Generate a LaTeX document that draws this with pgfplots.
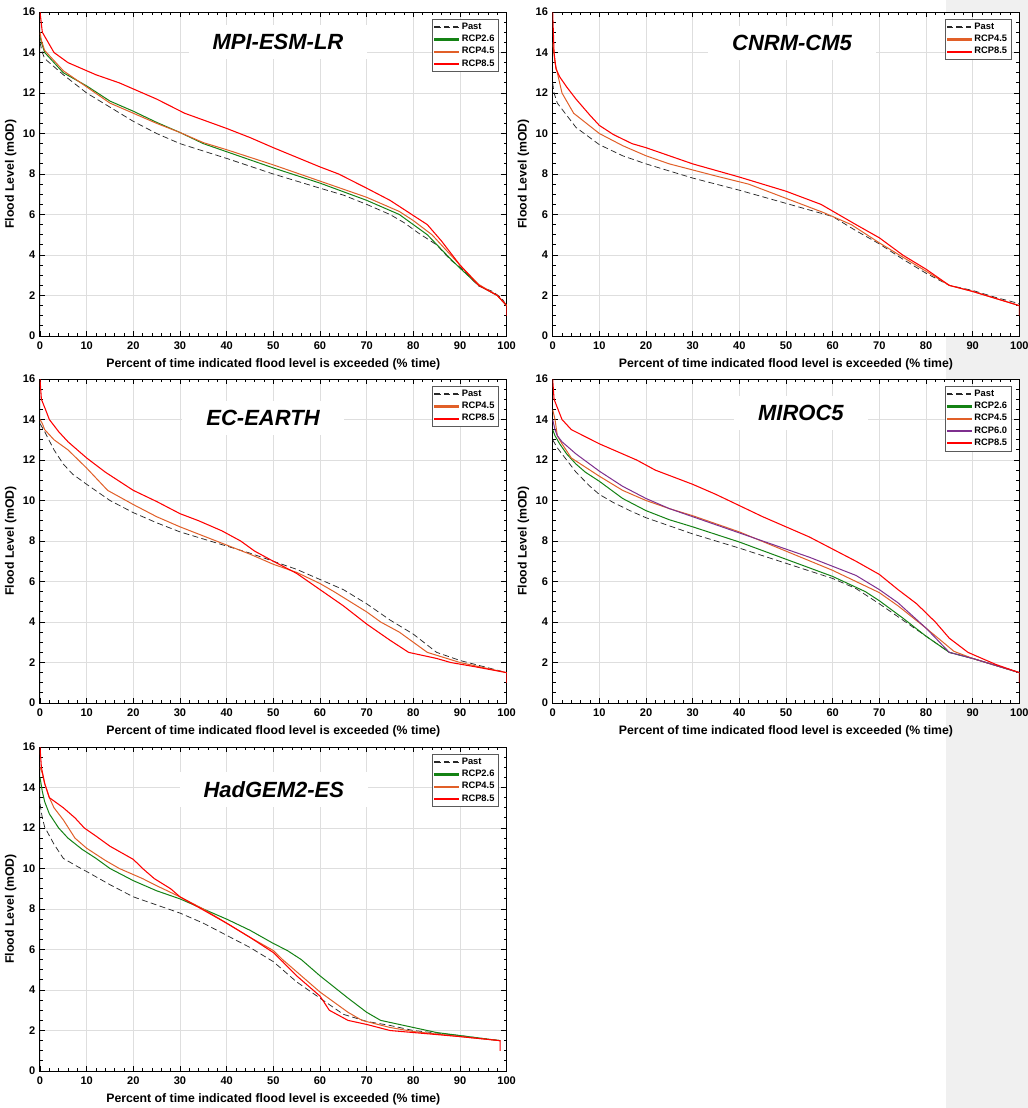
\documentclass[border=0pt]{standalone}
\usepackage{fontspec}
\setmainfont{Liberation Sans}
\usepackage{pgfplots}
\pgfplotsset{compat=1.18}

\definecolor{cgreen}{RGB}{20,130,20}
\definecolor{corange}{RGB}{225,95,40}
\definecolor{cpurple}{RGB}{126,47,142}
\definecolor{cred}{RGB}{255,0,0}
\definecolor{cpast}{RGB}{40,40,40}
\definecolor{figbg}{RGB}{240,240,240}
\definecolor{lgdframe}{RGB}{90,90,90}

\tikzset{ttl/.style={fill=white, font=\bfseries\itshape\fontsize{16.5}{18}\selectfont, inner xsep=18pt, inner ysep=7pt}}

\pgfplotsset{
  floodax/.style={
    scale only axis,
    width=350pt, height=243pt,
    anchor=north west,
    axis background/.style={fill=white},
    xmin=0, xmax=100, ymin=0, ymax=16,
    xtick={0,10,...,100}, ytick={0,2,...,16},
    minor x tick num=4, minor y tick num=3,
    tick pos=both, tick align=inside,
    xticklabel pos=lower, yticklabel pos=left,
    major tick length=4pt, minor tick length=2.2pt,
    every tick/.style={black, line width=0.6pt},
    axis line style={black, line width=0.75pt},
    grid=major,
    major grid style={black!13, line width=0.6pt},
    ticklabel style={font=\bfseries\fontsize{8.3}{9}\selectfont},
    xticklabel style={yshift=-1pt},
    /pgf/number format/assume math mode=true,
    xlabel={Percent of time indicated flood level is exceeded (\% time)},
    ylabel={Flood Level (mOD)},
    label style={font=\bfseries\fontsize{9.2}{10}\selectfont},
    xlabel style={yshift=0.5pt},
    ylabel style={yshift=-2pt},
    legend style={at={(0.983,0.977)}, anchor=north east, draw=lgdframe,
      fill=white, inner xsep=1pt, inner ysep=0.5pt,
      font=\bfseries\fontsize{7}{8}\selectfont, row sep=-1.2pt,
      cells={anchor=west}},
  },
  past/.style={draw=cpast, line width=0.55pt, dash pattern=on 4.5pt off 2.5pt,
    legend image code/.code={%
      \fill[cpast] (0pt,-0.35pt) rectangle (4.5pt,0.35pt);
      \fill[cpast] (7pt,-0.35pt) rectangle (11.5pt,0.35pt);
      \fill[cpast] (14pt,-0.35pt) rectangle (18pt,0.35pt);}},
  r26/.style={draw=cgreen, line width=0.75pt,
    legend image code/.code={\fill[cgreen] (0pt,-0.45pt) rectangle (18pt,0.45pt);}},
  r45/.style={draw=corange, line width=0.75pt,
    legend image code/.code={\fill[corange] (0pt,-0.45pt) rectangle (18pt,0.45pt);}},
  r60/.style={draw=cpurple, line width=0.75pt,
    legend image code/.code={\fill[cpurple] (0pt,-0.45pt) rectangle (18pt,0.45pt);}},
  r85/.style={draw=cred, line width=0.8pt,
    legend image code/.code={\fill[cred] (0pt,-0.45pt) rectangle (18pt,0.45pt);}},
}

\begin{document}
\begin{tikzpicture}
\path[use as bounding box] (0pt,0pt) rectangle (771pt,-831pt);
\fill[figbg] (709.5pt,0pt) rectangle (771pt,-831pt);

% ---- MPI-ESM-LR
\begin{axis}[floodax, at={(30pt,-9pt)}]
\addplot[past] coordinates {(0,14.5) (0.5,14) (1,13.7) (5,12.9) (10,12.0) (15,11.3) (20,10.6) (25,10.0) (30,9.5) (40,8.77) (50,8.0) (60,7.3) (65,6.96) (70,6.5) (75,6.0) (78,5.6) (81,5.1) (85,4.5) (88,3.75) (90,3.4) (94,2.47) (97,2.2) (99,1.85) (100,1.5)};
\addlegendentry{Past}
\addplot[r26] coordinates {(0,14.8) (0.3,14.5) (1,14.0) (5,13.0) (10,12.35) (15,11.6) (20,11.1) (25,10.55) (30,10.05) (35,9.5) (40,9.1) (50,8.3) (60,7.55) (70,6.7) (77,6.0) (80,5.5) (83,5.0) (88,3.8) (90,3.35) (94,2.5) (98,2.0) (100,1.5)};
\addlegendentry{RCP2.6}
\addplot[r45] coordinates {(0,15) (0.3,14.6) (1,14.1) (5,13.1) (10,12.3) (15,11.5) (20,11.0) (25,10.5) (30,10.05) (35,9.55) (40,9.2) (50,8.45) (60,7.65) (70,6.85) (77,6.15) (80,5.7) (84,5.0) (88,4.0) (90,3.5) (94,2.55) (98,2.0) (100,1.5)};
\addlegendentry{RCP4.5}
\addplot[r85] coordinates {(0,16) (0.5,15) (3,14.0) (6,13.5) (10,13.1) (12,12.9) (17,12.5) (20,12.2) (25,11.7) (31,11.0) (40,10.25) (45,9.8) (50,9.3) (60,8.35) (64,8.0) (70,7.3) (75,6.7) (80,5.95) (83,5.5) (86,4.7) (90,3.5) (94,2.5) (98,2.0) (100,1.5) (100,1.0)};
\addlegendentry{RCP8.5}
\node[ttl] at (rel axis cs:0.51,0.907) {MPI-ESM-LR};
\end{axis}

% ---- CNRM-CM5
\begin{axis}[floodax, at={(414.5pt,-9pt)}]
\addplot[past] coordinates {(0,12.5) (0.3,12) (1,11.5) (3,10.9) (5,10.3) (10,9.45) (15,8.9) (20,8.5) (25,8.15) (30,7.8) (40,7.2) (50,6.55) (60,5.9) (65,5.2) (70,4.55) (75,3.8) (80,3.1) (85,2.5) (90,2.25) (95,1.9) (100,1.6)};
\addlegendentry{Past}
\addplot[r45] coordinates {(0,14.5) (0.5,13.5) (1,13.0) (2,12.0) (4.5,11.0) (10,10.0) (15,9.4) (20,8.9) (25,8.5) (30,8.2) (35,7.9) (42,7.5) (50,6.8) (58,6.1) (64,5.5) (70,4.6) (75,3.9) (80,3.2) (85,2.5) (90,2.2) (100,1.5)};
\addlegendentry{RCP4.5}
\addplot[r85] coordinates {(0,16) (0.3,14) (0.7,13.2) (1.5,12.8) (3,12.3) (5,11.7) (8,10.9) (10,10.4) (13,9.95) (17,9.5) (20,9.3) (25,8.9) (30,8.5) (40,7.85) (50,7.15) (57.5,6.5) (65,5.5) (70,4.85) (75,4.0) (80,3.3) (85,2.5) (90,2.2) (100,1.5) (100,1.0)};
\addlegendentry{RCP8.5}
\node[ttl] at (rel axis cs:0.513,0.904) {CNRM-CM5};
\end{axis}

% ---- EC-EARTH
\begin{axis}[floodax, at={(30pt,-284.25pt)}]
\addplot[past] coordinates {(0,13.8) (1,13.4) (3,12.5) (5,11.8) (7,11.3) (10,10.8) (15,10.0) (20,9.4) (25,8.9) (30,8.45) (35,8.1) (40,7.75) (45,7.4) (50,7.0) (55,6.6) (60,6.1) (65,5.6) (70,4.9) (75,4.1) (80,3.4) (85,2.5) (90,2.1) (95,1.8) (100,1.5)};
\addlegendentry{Past}
\addplot[r45] coordinates {(0,14.0) (0.5,13.8) (1,13.5) (3,13.0) (6,12.5) (10,11.6) (14.5,10.5) (20,9.8) (25,9.2) (30,8.7) (35,8.25) (40,7.8) (45,7.35) (50,6.85) (55,6.45) (60,5.9) (63,5.5) (70,4.5) (73,4.0) (77,3.5) (83,2.5) (90,2.0) (95,1.75) (100,1.5)};
\addlegendentry{RCP4.5}
\addplot[r85] coordinates {(0,16) (0.3,15) (1,14.6) (2,14.0) (4,13.4) (6,12.9) (10,12.1) (14,11.4) (20,10.5) (25,9.95) (30,9.35) (34,9.0) (39,8.5) (43,8.0) (46,7.5) (50,7.0) (55,6.4) (60,5.6) (65,4.8) (70,3.9) (75,3.1) (79,2.5) (85,2.2) (88,2.0) (93,1.8) (100,1.5) (100,1.0)};
\addlegendentry{RCP8.5}
\node[ttl] at (rel axis cs:0.478,0.88) {EC-EARTH};
\end{axis}

% ---- MIROC5
\begin{axis}[floodax, at={(414.5pt,-284.25pt)}]
\addplot[past] coordinates {(0,13) (1,12.6) (3,12.0) (5,11.4) (8,10.7) (10,10.3) (13,9.9) (17,9.45) (20,9.15) (25,8.75) (30,8.35) (40,7.65) (50,6.9) (60,6.15) (65,5.65) (70,4.9) (75,4.1) (80,3.3) (85,2.5) (90,2.2) (95,1.85) (100,1.5)};
\addlegendentry{Past}
\addplot[r26] coordinates {(0,13.5) (0.5,13.2) (1.5,12.8) (3,12.3) (5,11.8) (7,11.4) (10,10.95) (15,10.1) (20,9.5) (25,9.05) (30,8.7) (40,7.95) (50,7.1) (60,6.25) (67,5.5) (70,5.05) (75,4.2) (80,3.3) (85,2.5) (90,2.2) (100,1.5)};
\addlegendentry{RCP2.6}
\addplot[r45] coordinates {(0,14.5) (0.5,14) (1,13.2) (2,12.8) (4,12.1) (6,11.8) (10,11.2) (15,10.5) (20,10.0) (25,9.6) (30,9.25) (40,8.45) (50,7.5) (60,6.55) (70,5.45) (74,4.8) (80,3.7) (86,2.55) (90,2.2) (100,1.5)};
\addlegendentry{RCP4.5}
\addplot[r60] coordinates {(0,14.0) (0.5,13.5) (1,13.2) (2,12.9) (5,12.3) (10,11.45) (15,10.7) (20,10.1) (25,9.6) (30,9.2) (40,8.4) (50,7.6) (55,7.2) (60,6.75) (65,6.3) (70,5.6) (74,4.95) (80,3.7) (85,2.5) (90,2.2) (100,1.5)};
\addlegendentry{RCP6.0}
\addplot[r85] coordinates {(0,16) (0.3,15) (2,14.0) (4,13.5) (10,12.8) (13,12.5) (18,12.0) (22,11.5) (30,10.8) (35,10.3) (40,9.75) (45,9.2) (50,8.7) (55,8.2) (60,7.6) (65,7.0) (70,6.35) (74,5.6) (78,4.9) (82,4.0) (85,3.2) (89,2.5) (95,1.9) (100,1.5) (100,1.0)};
\addlegendentry{RCP8.5}
\node[ttl] at (rel axis cs:0.532,0.895) {MIROC5};
\end{axis}

% ---- HadGEM2-ES
\begin{axis}[floodax, at={(30pt,-560.25pt)}]
\addplot[past] coordinates {(0,13.2) (0.5,12.5) (1,12.05) (3,11.2) (5,10.5) (8,10.1) (10,9.85) (15,9.2) (20,8.6) (25,8.2) (30,7.8) (35,7.3) (40,6.7) (45,6.1) (50,5.4) (52,5.0) (55,4.4) (60,3.6) (65,2.8) (70,2.45) (75,2.25) (80,2.0) (90,1.75) (98.6,1.5)};
\addlegendentry{Past}
\addplot[r26] coordinates {(0,14.5) (0.5,13.8) (1,13.3) (2,12.7) (4,12.0) (6,11.5) (9,10.95) (12,10.5) (15,10.0) (20,9.4) (25,8.9) (30,8.5) (35,8.0) (40,7.5) (45,6.95) (50,6.3) (53,5.95) (56,5.5) (60,4.7) (66,3.6) (70,2.9) (73,2.5) (80,2.15) (85,1.9) (90,1.75) (98.6,1.5)};
\addlegendentry{RCP2.6}
\addplot[r45] coordinates {(0,15) (0.5,14.7) (1,14.2) (2,13.5) (3,13.0) (5,12.4) (7.5,11.5) (10,11.0) (14,10.4) (17,10.0) (22,9.5) (25,9.15) (30,8.6) (35,8.0) (40,7.3) (45,6.6) (50,5.95) (52,5.5) (55,4.9) (60,3.9) (63,3.4) (66,2.9) (69,2.5) (75,2.15) (80,1.95) (90,1.7) (98.6,1.5)};
\addlegendentry{RCP4.5}
\addplot[r85] coordinates {(0,16) (0.3,15) (1,14.2) (2,13.5) (5,13.0) (7.5,12.5) (9.5,12.0) (12,11.6) (15,11.1) (20,10.45) (22,10.0) (24.5,9.5) (28,9.0) (30,8.6) (35,7.95) (40,7.3) (45,6.6) (50,5.85) (52,5.4) (55,4.7) (60,3.7) (62,3.0) (66,2.5) (70,2.3) (75,2.0) (80,1.9) (90,1.7) (98.6,1.5) (98.6,1.0)};
\addlegendentry{RCP8.5}
\node[ttl] at (rel axis cs:0.501,0.868) {HadGEM2-ES};
\end{axis}
\end{tikzpicture}
\end{document}
